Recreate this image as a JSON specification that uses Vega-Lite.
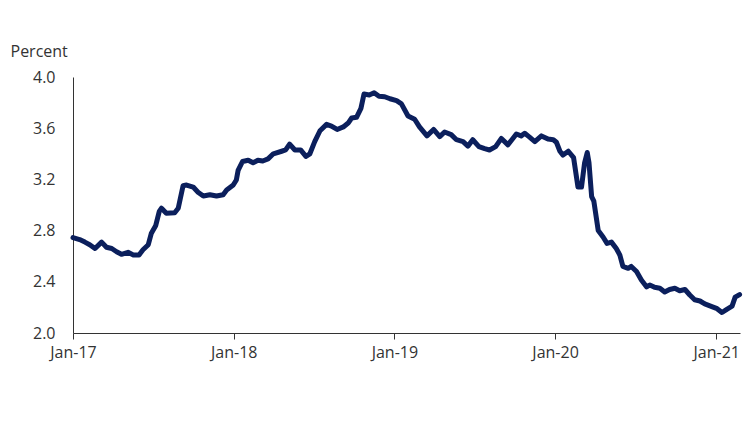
{
  "$schema": "https://vega.github.io/schema/vega-lite/v6.json",
  "width": 667,
  "height": 256,
  "autosize": {"type": "none"},
  "padding": {"left": 73, "top": 77, "right": 10, "bottom": 89},
  "background": "white",
  "config": {
    "view": {"stroke": null},
    "font": "Open Sans",
    "axis": {"labelFont": "Open Sans", "titleFont": "Open Sans", "labelColor": "#333333", "titleColor": "#333333", "labelFontSize": 16, "titleFontSize": 16, "titleFontWeight": "normal", "domainColor": "#333333", "tickColor": "#333333", "grid": false}
  },
  "data": {"values": [
    {"date": "2017-01-01", "rate": 2.745},
    {"date": "2017-01-16", "rate": 2.73},
    {"date": "2017-01-28", "rate": 2.71},
    {"date": "2017-02-08", "rate": 2.69},
    {"date": "2017-02-20", "rate": 2.66},
    {"date": "2017-03-07", "rate": 2.71},
    {"date": "2017-03-18", "rate": 2.67},
    {"date": "2017-03-30", "rate": 2.66},
    {"date": "2017-04-10", "rate": 2.635},
    {"date": "2017-04-21", "rate": 2.615},
    {"date": "2017-05-06", "rate": 2.63},
    {"date": "2017-05-18", "rate": 2.61},
    {"date": "2017-05-31", "rate": 2.61},
    {"date": "2017-06-09", "rate": 2.65},
    {"date": "2017-06-21", "rate": 2.69},
    {"date": "2017-06-28", "rate": 2.78},
    {"date": "2017-07-08", "rate": 2.84},
    {"date": "2017-07-16", "rate": 2.95},
    {"date": "2017-07-21", "rate": 2.975},
    {"date": "2017-08-01", "rate": 2.935},
    {"date": "2017-08-20", "rate": 2.94},
    {"date": "2017-08-28", "rate": 2.975},
    {"date": "2017-09-08", "rate": 3.15},
    {"date": "2017-09-16", "rate": 3.156},
    {"date": "2017-10-01", "rate": 3.14},
    {"date": "2017-10-12", "rate": 3.10},
    {"date": "2017-10-24", "rate": 3.07},
    {"date": "2017-11-08", "rate": 3.08},
    {"date": "2017-11-23", "rate": 3.07},
    {"date": "2017-12-08", "rate": 3.08},
    {"date": "2017-12-16", "rate": 3.117},
    {"date": "2017-12-31", "rate": 3.156},
    {"date": "2018-01-07", "rate": 3.195},
    {"date": "2018-01-11", "rate": 3.27},
    {"date": "2018-01-21", "rate": 3.34},
    {"date": "2018-02-03", "rate": 3.35},
    {"date": "2018-02-14", "rate": 3.33},
    {"date": "2018-02-25", "rate": 3.35},
    {"date": "2018-03-08", "rate": 3.344},
    {"date": "2018-03-20", "rate": 3.36},
    {"date": "2018-04-01", "rate": 3.40},
    {"date": "2018-04-20", "rate": 3.42},
    {"date": "2018-04-29", "rate": 3.43},
    {"date": "2018-05-08", "rate": 3.476},
    {"date": "2018-05-20", "rate": 3.43},
    {"date": "2018-06-02", "rate": 3.43},
    {"date": "2018-06-14", "rate": 3.38},
    {"date": "2018-06-23", "rate": 3.40},
    {"date": "2018-07-04", "rate": 3.495},
    {"date": "2018-07-16", "rate": 3.58},
    {"date": "2018-07-31", "rate": 3.63},
    {"date": "2018-08-11", "rate": 3.617},
    {"date": "2018-08-24", "rate": 3.59},
    {"date": "2018-09-07", "rate": 3.61},
    {"date": "2018-09-18", "rate": 3.64},
    {"date": "2018-09-26", "rate": 3.68},
    {"date": "2018-10-07", "rate": 3.685},
    {"date": "2018-10-17", "rate": 3.755},
    {"date": "2018-10-24", "rate": 3.867},
    {"date": "2018-11-05", "rate": 3.86},
    {"date": "2018-11-16", "rate": 3.877},
    {"date": "2018-11-27", "rate": 3.85},
    {"date": "2018-12-10", "rate": 3.846},
    {"date": "2018-12-22", "rate": 3.83},
    {"date": "2019-01-06", "rate": 3.815},
    {"date": "2019-01-17", "rate": 3.79},
    {"date": "2019-02-01", "rate": 3.695},
    {"date": "2019-02-16", "rate": 3.67},
    {"date": "2019-02-27", "rate": 3.61},
    {"date": "2019-03-16", "rate": 3.54},
    {"date": "2019-03-31", "rate": 3.59},
    {"date": "2019-04-14", "rate": 3.534},
    {"date": "2019-04-25", "rate": 3.57},
    {"date": "2019-05-10", "rate": 3.55},
    {"date": "2019-05-22", "rate": 3.51},
    {"date": "2019-06-06", "rate": 3.495},
    {"date": "2019-06-17", "rate": 3.46},
    {"date": "2019-06-28", "rate": 3.51},
    {"date": "2019-07-12", "rate": 3.456},
    {"date": "2019-07-25", "rate": 3.44},
    {"date": "2019-08-05", "rate": 3.43},
    {"date": "2019-08-19", "rate": 3.456},
    {"date": "2019-09-01", "rate": 3.52},
    {"date": "2019-09-16", "rate": 3.47},
    {"date": "2019-10-05", "rate": 3.555},
    {"date": "2019-10-16", "rate": 3.54},
    {"date": "2019-10-24", "rate": 3.56},
    {"date": "2019-11-04", "rate": 3.53},
    {"date": "2019-11-16", "rate": 3.495},
    {"date": "2019-12-01", "rate": 3.54},
    {"date": "2019-12-16", "rate": 3.515},
    {"date": "2019-12-28", "rate": 3.51},
    {"date": "2020-01-04", "rate": 3.49},
    {"date": "2020-01-12", "rate": 3.42},
    {"date": "2020-01-19", "rate": 3.39},
    {"date": "2020-01-31", "rate": 3.42},
    {"date": "2020-02-12", "rate": 3.37},
    {"date": "2020-02-22", "rate": 3.14},
    {"date": "2020-03-01", "rate": 3.14},
    {"date": "2020-03-08", "rate": 3.33},
    {"date": "2020-03-14", "rate": 3.41},
    {"date": "2020-03-18", "rate": 3.33},
    {"date": "2020-03-24", "rate": 3.065},
    {"date": "2020-03-29", "rate": 3.03},
    {"date": "2020-04-08", "rate": 2.80},
    {"date": "2020-04-19", "rate": 2.75},
    {"date": "2020-04-28", "rate": 2.70},
    {"date": "2020-05-08", "rate": 2.71},
    {"date": "2020-05-19", "rate": 2.66},
    {"date": "2020-05-27", "rate": 2.61},
    {"date": "2020-06-03", "rate": 2.52},
    {"date": "2020-06-15", "rate": 2.505},
    {"date": "2020-06-22", "rate": 2.52},
    {"date": "2020-07-04", "rate": 2.48},
    {"date": "2020-07-15", "rate": 2.414},
    {"date": "2020-07-27", "rate": 2.36},
    {"date": "2020-08-03", "rate": 2.375},
    {"date": "2020-08-14", "rate": 2.357},
    {"date": "2020-08-26", "rate": 2.35},
    {"date": "2020-09-06", "rate": 2.32},
    {"date": "2020-09-17", "rate": 2.34},
    {"date": "2020-09-29", "rate": 2.35},
    {"date": "2020-10-10", "rate": 2.33},
    {"date": "2020-10-22", "rate": 2.34},
    {"date": "2020-11-02", "rate": 2.297},
    {"date": "2020-11-13", "rate": 2.26},
    {"date": "2020-11-25", "rate": 2.25},
    {"date": "2020-12-06", "rate": 2.227},
    {"date": "2020-12-22", "rate": 2.206},
    {"date": "2021-01-03", "rate": 2.19},
    {"date": "2021-01-14", "rate": 2.16},
    {"date": "2021-01-25", "rate": 2.185},
    {"date": "2021-02-06", "rate": 2.21},
    {"date": "2021-02-13", "rate": 2.28},
    {"date": "2021-02-23", "rate": 2.30}
  ]},
  "mark": {"type": "line", "color": "#0b1f5c", "strokeWidth": 5, "strokeJoin": "round", "strokeCap": "round", "clip": false},
  "encoding": {
    "x": {
      "field": "date", "type": "temporal",
      "scale": {"domain": ["2017-01-01", "2021-02-24"]},
      "axis": {
        "title": null,
        "format": "%b-%y",
        "values": [
          {"year": 2017, "month": "jan", "date": 1},
          {"year": 2018, "month": "jan", "date": 1},
          {"year": 2019, "month": "jan", "date": 1},
          {"year": 2020, "month": "jan", "date": 1},
          {"year": 2021, "month": "jan", "date": 1}
        ],
        "tickSize": 6,
        "labelPadding": 5,
        "labelFlush": false
      }
    },
    "y": {
      "field": "rate", "type": "quantitative",
      "scale": {"domain": [2.0, 4.0], "nice": false, "zero": false},
      "axis": {
        "title": "Percent",
        "titleAngle": 0,
        "titleAlign": "left",
        "titleBaseline": "middle",
        "titleX": -63,
        "titleY": -26,
        "values": [2.0, 2.4, 2.8, 3.2, 3.6, 4.0],
        "format": ".1f",
        "ticks": false,
        "labelPadding": 18
      }
    }
  }
}
